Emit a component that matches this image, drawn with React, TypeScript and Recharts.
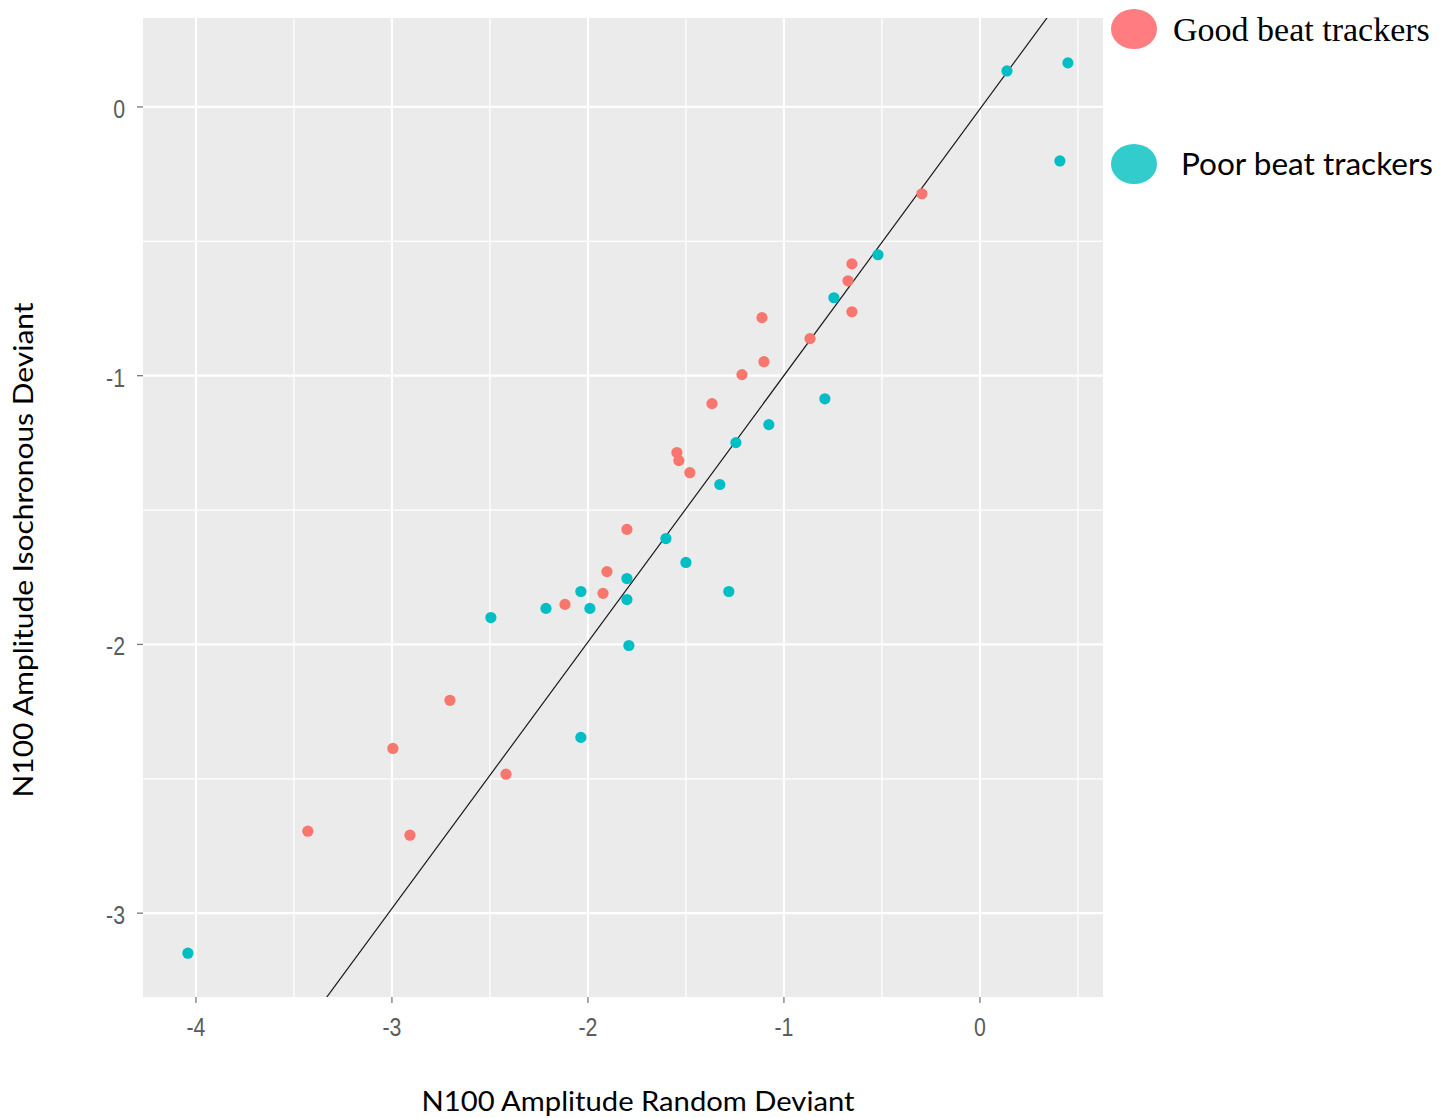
import {
  CartesianGrid,
  Label,
  Legend,
  ReferenceLine,
  Scatter,
  ScatterChart,
  XAxis,
  YAxis,
} from "recharts";

const goodBeat = [
  { x: -0.296, y: -0.323 },
  { x: -0.653, y: -0.584 },
  { x: -0.673, y: -0.647 },
  { x: -0.653, y: -0.762 },
  { x: -1.112, y: -0.784 },
  { x: -0.867, y: -0.862 },
  { x: -1.102, y: -0.948 },
  { x: -1.214, y: -0.996 },
  { x: -1.367, y: -1.104 },
  { x: -1.546, y: -1.286 },
  { x: -1.536, y: -1.316 },
  { x: -1.48, y: -1.361 },
  { x: -1.801, y: -1.572 },
  { x: -1.903, y: -1.729 },
  { x: -1.923, y: -1.81 },
  { x: -2.117, y: -1.851 },
  { x: -2.704, y: -2.208 },
  { x: -2.995, y: -2.387 },
  { x: -2.418, y: -2.483 },
  { x: -3.429, y: -2.695 },
  { x: -2.908, y: -2.71 },
];

const poorBeat = [
  { x: 0.138, y: 0.134 },
  { x: 0.449, y: 0.164 },
  { x: 0.408, y: -0.201 },
  { x: -0.52, y: -0.55 },
  { x: -0.745, y: -0.71 },
  { x: -0.791, y: -1.086 },
  { x: -1.077, y: -1.182 },
  { x: -1.245, y: -1.249 },
  { x: -1.327, y: -1.405 },
  { x: -1.602, y: -1.606 },
  { x: -1.5, y: -1.695 },
  { x: -1.801, y: -1.755 },
  { x: -2.036, y: -1.803 },
  { x: -1.281, y: -1.803 },
  { x: -2.214, y: -1.866 },
  { x: -1.99, y: -1.866 },
  { x: -1.801, y: -1.833 },
  { x: -2.495, y: -1.9 },
  { x: -1.791, y: -2.004 },
  { x: -2.036, y: -2.346 },
  { x: -4.041, y: -3.149 },
];

// fitted line y = slope * x + intercept
const fitSlope = 0.9916;
const fitIntercept = -0.008;

const xDomain = [-4.27, 0.628];
const yDomain = [-3.312, 0.331];
const xTicks = [-4, -3, -2, -1, 0];
const yTicks = [-3, -2, -1, 0];
const xMinor = [-3.5, -2.5, -1.5, -0.5, 0.5];
const yMinor = [-2.5, -1.5, -0.5];

const fitSegment = xDomain.map((x) => ({ x, y: fitSlope * x + fitIntercept }));

const legendSwatch = ["#FF7C80", "#33CCCC"];

function renderLegend(props: any) {
  const items = props.payload || [];
  return (
    <svg width={346} height={200} style={{ display: "block" }}>
      {items.map((entry: any, i: number) => (
        <g key={entry.value}>
          <ellipse cx={29} cy={29 + i * 135} rx={23} ry={20} fill={legendSwatch[i]} />
          {i === 0 ? (
            <text x={68} y={41} fontFamily="'Liberation Serif', serif" fontSize={34} fill="#000">
              {entry.value}
            </text>
          ) : (
            <text
              x={76}
              y={175}
              fontFamily="Lato, sans-serif"
              fontSize={31}
              fill="#000"
              textLength={252}
              lengthAdjust="spacingAndGlyphs"
            >
              {entry.value}
            </text>
          )}
        </g>
      ))}
    </svg>
  );
}

const dot = (color: string) => (p: any) => <circle cx={p.cx} cy={p.cy} r={5.6} fill={color} />;

// narrow grey tick text, like the squeezed ggplot export
function AxisTick({ x, y, payload, side }: any) {
  const dy = side === "x" ? 20 : 11;
  return (
    <text
      transform={`translate(${x},${y + dy}) scale(0.82,1)`}
      textAnchor={side === "x" ? "middle" : "end"}
      fontFamily="'Liberation Sans', Arial, sans-serif"
      fontSize={26}
      fill="#5c5c5c"
    >
      {payload.value}
    </text>
  );
}

export default function App() {
  return (
    <div style={{ position: "absolute", left: 0, top: 0, background: "#fff" }}>
      <ScatterChart
        width={1451}
        height={1118}
        margin={{ top: 18, right: 2, left: 83, bottom: 81 }}
      >
        <CartesianGrid
          fill="#EBEBEB"
          stroke="#FFFFFF"
          strokeWidth={1.3}
          horizontalValues={yMinor}
          verticalValues={xMinor}
        />
        <CartesianGrid
          stroke="#FFFFFF"
          strokeWidth={2.2}
          horizontalValues={yTicks}
          verticalValues={xTicks}
        />
        <XAxis
          type="number"
          dataKey="x"
          domain={xDomain}
          ticks={xTicks}
          allowDataOverflow
          axisLine={false}
          tickSize={6}
          tickMargin={13}
          height={40}
          tickLine={{ stroke: "#7a7a7a", strokeWidth: 1.3 }}
          tick={<AxisTick side="x" />}
        >
          <Label
            content={() => (
              <text
                x={638}
                y={1111}
                textAnchor="middle"
                fontFamily="Lato, sans-serif"
                fontSize={27}
                fill="#000"
                textLength={433}
                lengthAdjust="spacingAndGlyphs"
              >
                N100 Amplitude Random Deviant
              </text>
            )}
          />
        </XAxis>
        <YAxis
          type="number"
          dataKey="y"
          domain={yDomain}
          ticks={yTicks}
          allowDataOverflow
          axisLine={false}
          tickSize={6}
          tickMargin={12}
          width={60}
          tickLine={{ stroke: "#7a7a7a", strokeWidth: 1.3 }}
          tick={<AxisTick side="y" />}
        >
          <Label
            content={() => (
              <text
                x={33}
                y={550}
                transform="rotate(-90 33 550)"
                textAnchor="middle"
                fontFamily="Lato, sans-serif"
                fontSize={27}
                fill="#000"
                textLength={495}
                lengthAdjust="spacingAndGlyphs"
              >
                N100 Amplitude Isochronous Deviant
              </text>
            )}
          />
        </YAxis>
        <ReferenceLine
          segment={fitSegment}
          stroke="#1a1a1a"
          strokeWidth={1.2}
          ifOverflow="hidden"
        />
        <Scatter
          name="Good beat trackers"
          data={goodBeat}
          fill="#F8766D"
          shape={dot("#F8766D")}
          isAnimationActive={false}
        />
        <Scatter
          name="Poor beat trackers"
          data={poorBeat}
          fill="#00BFC4"
          shape={dot("#00BFC4")}
          isAnimationActive={false}
        />
        <Legend
          layout="vertical"
          align="right"
          verticalAlign="top"
          content={renderLegend}
          wrapperStyle={{ position: "absolute", left: 1105, top: 0, width: 346 }}
        />
      </ScatterChart>
    </div>
  );
}
